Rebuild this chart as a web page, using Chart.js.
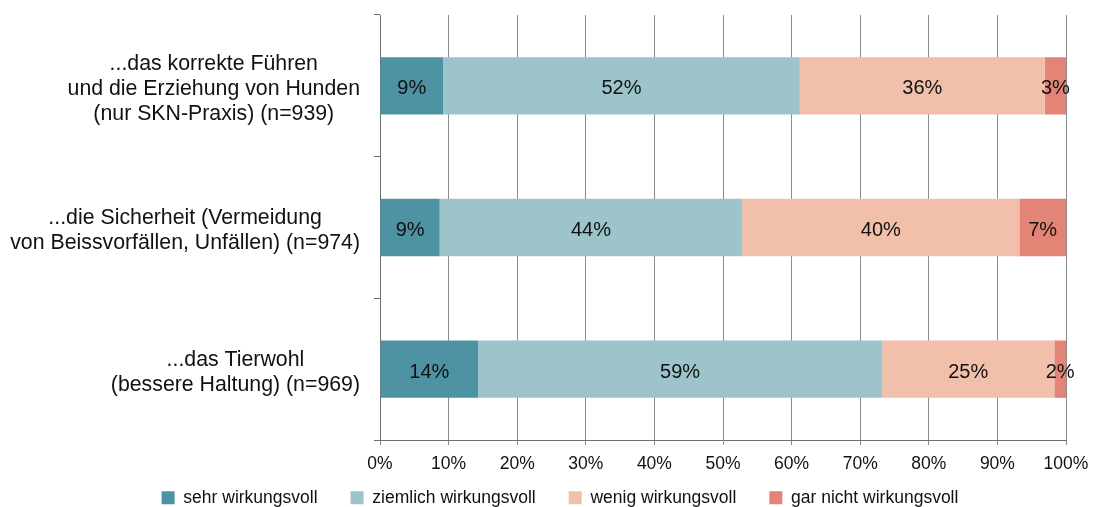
<!DOCTYPE html>
<html>
<head>
<meta charset="utf-8">
<script src="https://cdn.jsdelivr.net/npm/chart.js@4.4.0/dist/chart.umd.min.js"></script>
<style>
  html, body { margin: 0; padding: 0; background: #fff; }
  #wrap { width: 1094px; height: 507px; }
</style>
</head>
<body>
<div id="wrap"><canvas id="chart"></canvas></div>
<script>
// categories (one array of lines per bar)
const categories = [
    ['...das korrekte Führen', 'und die Erziehung von Hunden', '(nur SKN-Praxis) (n=939)'],
    ['...die Sicherheit (Vermeidung', 'von Beissvorfällen, Unfällen) (n=974)'],
    ['...das Tierwohl', '(bessere Haltung) (n=969)']
];
const seriesNames = ['sehr wirkungsvoll', 'ziemlich wirkungsvoll', 'wenig wirkungsvoll', 'gar nicht wirkungsvoll'];
const seriesColors = ['#4E93A3', '#9DC3CB', '#F2BFAB', '#E38576'];

// shares in percent
const sehrWirkungsvoll = [9.2, 8.7, 14.3];
const ziemlichWirkungsvoll = [52.0, 44.1, 58.9];
const wenigWirkungsvoll = [35.7, 40.4, 25.1];
const garNichtWirkungsvoll = [3.1, 6.8, 1.7];

const xMin = 0;
const xMax = 100;
const xStep = 10;

const FONT = 'Arial, "Liberation Sans", sans-serif';

// draws the value inside every bar segment
const valueLabels = {
    id: 'valueLabels',
    afterDatasetsDraw(chart) {
        const ctx = chart.ctx;
        ctx.save();
        ctx.font = '20px ' + FONT;
        ctx.fillStyle = '#111';
        ctx.textAlign = 'center';
        ctx.textBaseline = 'middle';
        chart.data.datasets.forEach((ds, i) => {
            const meta = chart.getDatasetMeta(i);
            meta.data.forEach((bar, j) => {
                const cx = (bar.x + bar.base) / 2;
                ctx.fillText(Math.round(ds.data[j]) + '%', cx, bar.y + 3);
            });
        });
        ctx.restore();
    }
};

// category labels: lines centred on each other, block right aligned to the axis
const categoryLabels = {
    id: 'categoryLabels',
    afterDraw(chart) {
        const ctx = chart.ctx;
        const yScale = chart.scales.y;
        const right = chart.chartArea.left - 20;
        const lineHeight = 25;
        ctx.save();
        ctx.font = '21.3px ' + FONT;
        ctx.fillStyle = '#111';
        ctx.textAlign = 'center';
        ctx.textBaseline = 'middle';
        categories.forEach((lines, i) => {
            const y = yScale.getPixelForValue(i) + 3;
            const w = Math.max(...lines.map(l => ctx.measureText(l).width));
            const cx = right - w / 2;
            const top = y - (lines.length - 1) * lineHeight / 2;
            lines.forEach((l, k) => ctx.fillText(l, cx, top + k * lineHeight));
        });
        ctx.restore();
    }
};

// legend needs wide gaps between items but sits close under the tick labels
const legendShift = {
    id: 'legendShift',
    afterLayout(chart) {
        const lg = chart.legend;
        lg.top -= 20;
        lg.bottom -= 20;
        lg.left += 27;
        lg.right += 27;
    }
};

const ctx = document.getElementById('chart').getContext('2d');
const chart = new Chart(ctx, {
    type: 'bar',
    data: {
        labels: categories,
        datasets: [
            { label: seriesNames[0], data: sehrWirkungsvoll, backgroundColor: seriesColors[0] },
            { label: seriesNames[1], data: ziemlichWirkungsvoll, backgroundColor: seriesColors[1] },
            { label: seriesNames[2], data: wenigWirkungsvoll, backgroundColor: seriesColors[2] },
            { label: seriesNames[3], data: garNichtWirkungsvoll, backgroundColor: seriesColors[3] }
        ]
    },
    options: {
        indexAxis: 'y',
        responsive: true,
        maintainAspectRatio: false,
        animation: false,
        layout: { padding: { top: 15, right: 28, bottom: -29.5, left: 0 } },
        datasets: {
            bar: { categoryPercentage: 1, barPercentage: 0.405, borderWidth: 0 }
        },
        scales: {
            x: {
                stacked: true,
                min: xMin,
                max: xMax,
                ticks: {
                    stepSize: xStep,
                    color: '#111',
                    font: { family: FONT, size: 17.5 },
                    padding: 9,
                    maxRotation: 0,
                    minRotation: 0,
                    autoSkip: false,
                    callback: v => v + '%'
                },
                grid: { color: '#8c8c8c', lineWidth: 1, tickLength: 5 },
                border: { color: '#6e6e6e', width: 1 },
                afterFit: s => {
                    s.height = 36;
                    s.paddingRight = 0;
                    s.paddingLeft = 0;
                }
            },
            y: {
                stacked: true,
                ticks: { display: false },
                grid: { drawOnChartArea: false, color: '#6e6e6e', tickLength: 6, offset: true },
                border: { color: '#6e6e6e', width: 1 },
                afterFit: s => { s.width = 380; }
            }
        },
        plugins: {
            legend: {
                position: 'bottom',
                labels: {
                    boxWidth: 13,
                    boxHeight: 13,
                    padding: 33,
                    color: '#111',
                    font: { family: FONT, size: 17.5 }
                }
            },
            tooltip: { enabled: false }
        }
    },
    plugins: [valueLabels, categoryLabels, legendShift]
});
</script>
</body>
</html>
